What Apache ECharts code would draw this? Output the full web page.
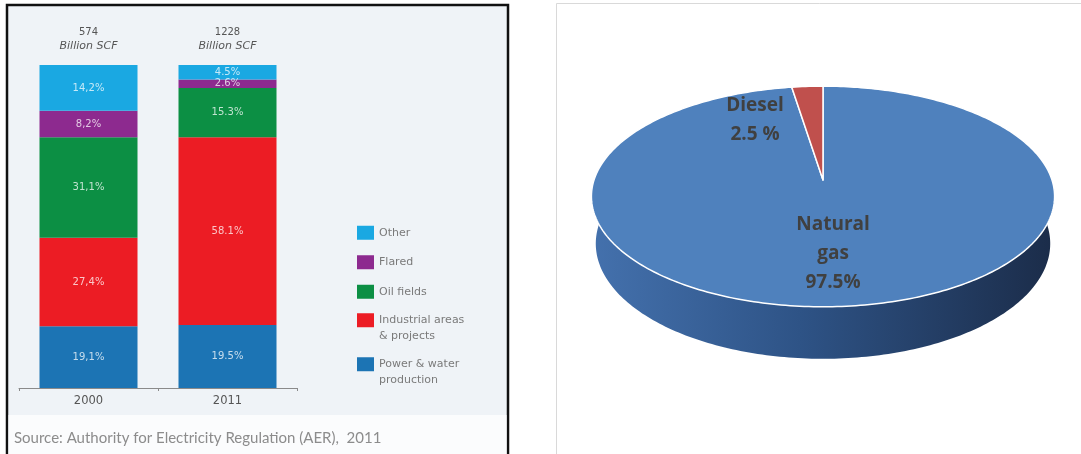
<!DOCTYPE html>
<html>
<head>
<meta charset="utf-8">
<script src="https://cdn.jsdelivr.net/npm/echarts@6/dist/echarts.min.js"></script>
<style>
html,body{margin:0;padding:0;background:#ffffff;}
#chart{width:1081px;height:454px;}
</style>
</head>
<body>
<div id="chart"></div>
<script>
// ---------- DATA ----------
const years = ['2000', '2011'];
const totals = ['574', '1228'];
const totalUnit = 'Billion SCF';
const decimalMarks = [',', '.'];

const categoryNames = ['Power & water\nproduction', 'Industrial areas\n& projects', 'Oil fields', 'Flared', 'Other'];
const powerWater = [19.1, 19.5];
const industrial = [27.4, 58.1];
const oilFields = [31.1, 15.3];
const flared = [8.2, 2.6];
const other = [14.2, 4.5];

const pieNames = ['Natural gas', 'Diesel'];
const pieValues = [97.5, 2.5];
const piePercentSpacing = ['', ' '];

const sourceText = 'Source: Authority for Electricity Regulation (AER),  2011';

// ---------- STYLE / LAYOUT ----------
const barColors = ['#1c74b4', '#ec1c24', '#0c8f44', '#8d2a8f', '#1aa8e2'];
const barFont = '"DejaVu Sans", sans-serif';
const sourceFont = 'Lato, "Liberation Sans", sans-serif';
const pieFont = '"Open Sans", "Noto Sans", sans-serif';
const pieColors = ['#4f81bd', '#c0504d'];
const P = { cx: 823, cy: 180, R: 229, tilt: 28.1 * Math.PI / 180, d: 1355, h: 54 };
const pieLabelOffsets = [[10, 74], [-68, -60]];

const barSeriesData = [powerWater, industrial, oilFields, flared, other];

function fmtPct(v, idx) {
  return v.toFixed(1).replace('.', decimalMarks[idx]) + '%';
}

function proj(theta, r, z) {
  const x = r * Math.sin(theta);
  const y = r * Math.cos(theta);
  const sa = Math.sin(P.tilt), ca = Math.cos(P.tilt);
  const yUp = y * sa + z * ca;
  const zz = P.d + y * ca - z * sa;
  const s = P.d / zz;
  return [P.cx + x * s, P.cy - yUp * s];
}

const pieTotal = pieValues.reduce((a, b) => a + b, 0);
function sliceAngles(i) {
  let before = 0;
  for (let k = 0; k < i; k++) before += pieValues[k];
  const a0 = before / pieTotal * Math.PI * 2;
  const a1 = (before + pieValues[i]) / pieTotal * Math.PI * 2;
  return [a0, a1];
}

function arcPoints(a0, a1, z) {
  const pts = [];
  const n = Math.max(2, Math.ceil((a1 - a0) / (Math.PI / 180)));
  for (let j = 0; j <= n; j++) {
    const t = a0 + (a1 - a0) * j / n;
    pts.push(proj(t, P.R, z));
  }
  return pts;
}

function renderSide(params, api) {
  const i = params.dataIndex;
  const [a0, a1] = sliceAngles(i);
  const lo = Math.max(a0, Math.PI / 3);
  const hi = Math.min(a1, Math.PI * 5 / 3);
  if (hi <= lo) return { type: 'group', children: [] };
  const top = arcPoints(lo, hi, 0);
  const bottom = arcPoints(lo, hi, -P.h).reverse();
  return {
    type: 'polygon',
    shape: { points: top.concat(bottom) },
    style: {
      fill: i === 0 ? new echarts.graphic.LinearGradient(0, 0, 1, 0, [
        { offset: 0, color: '#4471ad' },
        { offset: 0.45, color: '#2e5386' },
        { offset: 1, color: '#1b2c49' }
      ]) : '#8c3a38',
      stroke: 'none'
    }
  };
}

function renderTop(params, api) {
  const i = params.dataIndex;
  const [a0, a1] = sliceAngles(i);
  const pts = [proj(0, 0, 0)].concat(arcPoints(a0, a1, 0));
  const val = api.value(0);
  const label = pieNames[i].split(' ').join('\n') + '\n' + val + piePercentSpacing[i] + '%';
  const c = proj(0, 0, 0);
  return {
    type: 'group',
    children: [
      {
        type: 'polygon',
        shape: { points: pts },
        style: { fill: pieColors[i], stroke: '#ffffff', lineWidth: 1.5, lineJoin: 'round' }
      },
      {
        type: 'text',
        z2: 10,
        style: {
          text: label,
          x: c[0] + pieLabelOffsets[i][0],
          y: c[1] + pieLabelOffsets[i][1],
          align: 'center',
          verticalAlign: 'middle',
          fontSize: 19,
          fontWeight: 'bold',
          fontFamily: pieFont,
          lineHeight: 29,
          fill: '#404040'
        }
      }
    ]
  };
}

const barSeries = categoryNames.map((name, si) => ({
  name: name,
  type: 'bar',
  stack: 'total',
  xAxisIndex: 0,
  yAxisIndex: 0,
  barWidth: 98,
  data: barSeriesData[si],
  itemStyle: { color: barColors[si] },
  label: {
    show: true,
    position: 'inside',
    color: 'rgba(255,255,255,0.75)',
    fontSize: 10,
    fontFamily: barFont,
    formatter: p => fmtPct(p.value, p.dataIndex)
  }
}));

const legendText = { color: '#7a7a7a', fontSize: 11, fontFamily: barFont, lineHeight: 15.5 };

const option = {
  animation: false,
  backgroundColor: '#ffffff',
  graphic: [
    { type: 'rect', z: -10, shape: { x: 7, y: 5, width: 501, height: 470 }, style: { fill: '#eff3f7', stroke: '#111111', lineWidth: 2.5 } },
    { type: 'rect', z: -9, shape: { x: 8.5, y: 415, width: 498, height: 45 }, style: { fill: '#fbfcfd' } },
    { type: 'rect', z: -10, shape: { x: 556.5, y: 3.5, width: 600, height: 500 }, style: { fill: 'none', stroke: '#d9d9d9', lineWidth: 1 } }
  ],
  title: {
    text: sourceText,
    left: 14,
    top: 431,
    padding: 0,
    textStyle: { fontSize: 15, fontWeight: 'normal', color: '#8c8c8c', fontFamily: sourceFont }
  },
  legend: [
    {
      data: ['Other', 'Flared', 'Oil fields'],
      orient: 'vertical', left: 357, top: 225, padding: 0,
      itemWidth: 17, itemHeight: 14, itemGap: 14,
      icon: 'rect',
      textStyle: legendText
    },
    {
      data: ['Industrial areas\n& projects'],
      orient: 'vertical', left: 357, top: 297, padding: 0,
      itemWidth: 17, itemHeight: 14,
      icon: 'rect',
      formatter: name => ' \n' + name,
      textStyle: legendText
    },
    {
      data: ['Power & water\nproduction'],
      orient: 'vertical', left: 357, top: 341, padding: 0,
      itemWidth: 17, itemHeight: 14,
      icon: 'rect',
      formatter: name => ' \n' + name,
      textStyle: legendText
    }
  ],
  grid: [{ left: 19, top: 65, width: 278, height: 323 }],
  xAxis: [
    {
      type: 'category',
      data: years,
      gridIndex: 0,
      position: 'bottom',
      axisLine: { lineStyle: { color: '#8a8a8a', width: 1 } },
      axisTick: { show: true, length: 3, lineStyle: { color: '#8a8a8a' } },
      axisLabel: { color: '#555555', fontSize: 11.5, fontFamily: barFont, margin: 7 }
    },
    {
      type: 'category',
      data: totals,
      gridIndex: 0,
      position: 'top',
      axisLine: { show: false },
      axisTick: { show: false },
      axisLabel: {
        margin: 12,
        formatter: v => '{n|' + v + '}\n{u|' + totalUnit + '}',
        rich: {
          n: { fontSize: 10, color: '#555555', fontFamily: barFont, lineHeight: 14 },
          u: { fontSize: 11, fontStyle: 'italic', color: '#555555', fontFamily: barFont, lineHeight: 14 }
        }
      }
    }
  ],
  yAxis: [{ type: 'value', gridIndex: 0, min: 0, max: 100, show: false }],
  series: barSeries.concat([
    {
      name: 'pieSide',
      type: 'custom',
      coordinateSystem: 'none',
      z: 2,
      renderItem: renderSide,
      data: pieValues.map((v, i) => ({ name: pieNames[i], value: v }))
    },
    {
      name: 'pieTop',
      type: 'custom',
      coordinateSystem: 'none',
      z: 3,
      renderItem: renderTop,
      data: pieValues.map((v, i) => ({ name: pieNames[i], value: v }))
    }
  ])
};

const chart = echarts.init(document.getElementById('chart'));
chart.setOption(option);
</script>
</body>
</html>
